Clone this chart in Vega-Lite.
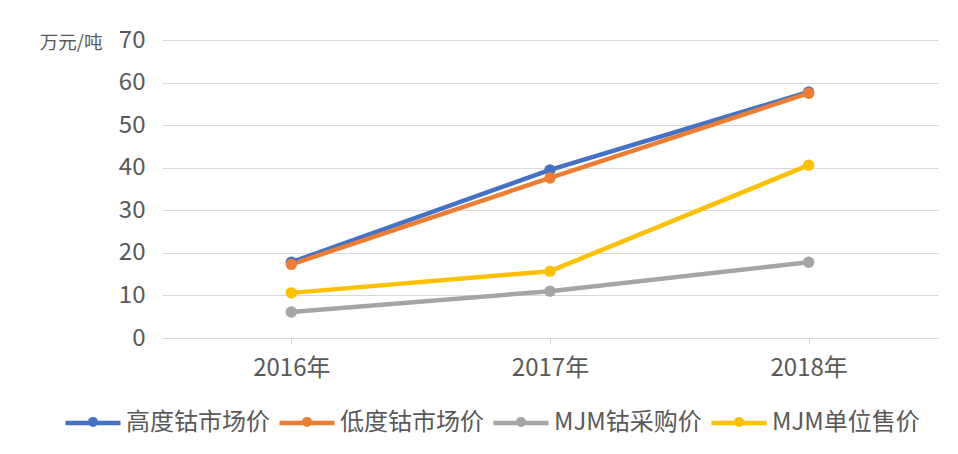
{
  "$schema": "https://vega.github.io/schema/vega-lite/v6.json",
  "width": 776,
  "height": 298,
  "autosize": {"type": "none"},
  "padding": {"left": 162, "top": 40, "right": 20, "bottom": 116},
  "background": "white",
  "config": {
    "view": {"stroke": null},
    "font": "Liberation Sans Narrow, Noto Sans CJK SC"
  },
  "data": {
    "values": [
      {"year": "2016年", "series": "高度钴市场价", "value": 17.8},
      {"year": "2017年", "series": "高度钴市场价", "value": 39.5},
      {"year": "2018年", "series": "高度钴市场价", "value": 57.8},
      {"year": "2016年", "series": "低度钴市场价", "value": 17.3},
      {"year": "2017年", "series": "低度钴市场价", "value": 37.6},
      {"year": "2018年", "series": "低度钴市场价", "value": 57.5},
      {"year": "2016年", "series": "MJM钴采购价", "value": 6.1},
      {"year": "2017年", "series": "MJM钴采购价", "value": 11.0},
      {"year": "2018年", "series": "MJM钴采购价", "value": 17.8},
      {"year": "2016年", "series": "MJM单位售价", "value": 10.6},
      {"year": "2017年", "series": "MJM单位售价", "value": 15.7},
      {"year": "2018年", "series": "MJM单位售价", "value": 40.6}
    ]
  },
  "encoding": {
    "x": {
      "field": "year", "type": "nominal", "sort": null,
      "scale": {"type": "point", "padding": 0.5},
      "axis": {
        "title": null, "labelAngle": 0, "labelFontSize": 24, "labelColor": "#595959",
        "labelFont": "Liberation Sans Narrow, Noto Sans CJK SC",
        "domainColor": "#d9d9d9", "domainWidth": 1, "tickColor": "#d9d9d9",
        "tickBand": "extent", "tickSize": 6, "labelPadding": 12, "grid": false
      }
    },
    "y": {
      "field": "value", "type": "quantitative",
      "scale": {"domain": [0, 70], "nice": false},
      "axis": {
        "values": [0, 10, 20, 30, 40, 50, 60, 70],
        "title": "万元/吨", "titleAngle": 0, "titleAlign": "right", "titleBaseline": "middle",
        "titleX": -60, "titleY": 2, "titleFontSize": 18.5, "titleFontWeight": "normal", "titleColor": "#595959",
        "titleFont": "Liberation Sans Narrow, Noto Sans CJK SC",
        "labelFontSize": 24, "labelColor": "#595959", "labelPadding": 17,
        "labelFont": "Liberation Sans Narrow, Noto Sans CJK SC",
        "ticks": false, "domain": false, "gridColor": "#d9d9d9", "gridWidth": 1
      }
    },
    "color": {
      "field": "series", "type": "nominal",
      "scale": {
        "domain": ["高度钴市场价", "低度钴市场价", "MJM钴采购价", "MJM单位售价"],
        "range": ["#4472C4", "#ED7D31", "#A5A5A5", "#FFC000"]
      },
      "legend": {
        "title": null, "orient": "none", "direction": "horizontal",
        "legendX": -99, "legendY": 353,
        "symbolType": "M -1 0 L 1 0 M -0.1 -0.04 A 0.1 0.1 0 1 1 0.1 -0.04 A 0.1 0.1 0 1 1 -0.1 -0.04 Z",
        "symbolSize": 3025, "symbolStrokeWidth": 4.5,
        "labelFontSize": 24, "labelColor": "#595959", "labelOffset": 3,
        "columnPadding": 0, "labelFont": "Liberation Sans Narrow, Noto Sans CJK SC"
      }
    }
  },
  "layer": [
    {"mark": {"type": "line", "strokeWidth": 4.5, "strokeCap": "round"}},
    {"mark": {"type": "point", "filled": true, "size": 130, "opacity": 1}}
  ]
}
